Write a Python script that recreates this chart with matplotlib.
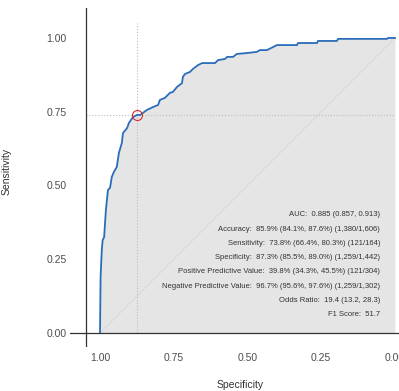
import matplotlib
matplotlib.use('Agg')
import matplotlib.pyplot as plt

plt.rcParams['font.family'] = ['Liberation Sans', 'DejaVu Sans']

# ROC curve points (specificity, sensitivity)
specificity = [1.000, 0.998, 0.994, 0.991, 0.986, 0.980, 0.973, 0.966, 0.960, 0.953,
               0.943, 0.936, 0.926, 0.922, 0.908, 0.902, 0.895, 0.888, 0.875, 0.864,
               0.841, 0.820, 0.803, 0.797, 0.780, 0.763, 0.753, 0.739, 0.722, 0.719,
               0.712, 0.695, 0.685, 0.668, 0.654, 0.610, 0.600, 0.576, 0.569, 0.549,
               0.536, 0.502, 0.468, 0.458, 0.434, 0.400, 0.332, 0.329, 0.264, 0.261,
               0.197, 0.193, 0.027, 0.024, 0.000]
sensitivity = [0.000, 0.190, 0.281, 0.315, 0.325, 0.417, 0.485, 0.492, 0.529, 0.546,
               0.563, 0.610, 0.644, 0.678, 0.695, 0.712, 0.722, 0.732, 0.739, 0.739,
               0.756, 0.766, 0.773, 0.790, 0.797, 0.814, 0.817, 0.834, 0.847, 0.868,
               0.878, 0.885, 0.895, 0.908, 0.915, 0.915, 0.925, 0.929, 0.936, 0.936,
               0.946, 0.949, 0.953, 0.959, 0.959, 0.976, 0.976, 0.983, 0.983, 0.990,
               0.990, 0.997, 0.997, 1.000, 1.000]

best_spec = 0.873
best_sens = 0.738

ticks = [1.00, 0.75, 0.50, 0.25, 0.00]
tick_labels = ['1.00', '0.75', '0.50', '0.25', '0.00']

stats = [
    'AUC:  0.885 (0.857, 0.913)',
    'Accuracy:  85.9% (84.1%, 87.6%) (1,380/1,606)',
    'Sensitivity:  73.8% (66.4%, 80.3%) (121/164)',
    'Specificity:  87.3% (85.5%, 89.0%) (1,259/1,442)',
    'Positive Predictive Value:  39.8% (34.3%, 45.5%) (121/304)',
    'Negative Predictive Value:  96.7% (95.6%, 97.6%) (1,259/1,302)',
    'Odds Ratio:  19.4 (13.2, 28.3)',
    'F1 Score:  51.7',
]

fig = plt.figure(figsize=(3.99, 3.91), dpi=100)
ax = fig.add_axes([70 / 399, 44 / 391, 329 / 399, 339 / 391])
ax.set_xlim(1.1017, -0.0136)
ax.set_ylim(-0.0475, 1.1017)
for s in ax.spines.values():
    s.set_visible(False)

# area under the curve
ax.fill_between(specificity, sensitivity, 0, color='#e5e5e5', lw=0, zorder=1)
ax.plot([1, 0], [0, 1], color='#d6d6d6', lw=0.6, zorder=2)

# cut-off guides
ax.plot([best_spec, best_spec], [0, 1.051], color='#bdbdbd', lw=0.8, ls=':', zorder=2)
ax.plot([1.0475, 0], [best_sens, best_sens], color='#bdbdbd', lw=0.8, ls=':', zorder=2)

ax.plot(specificity, sensitivity, color='#2b6cb8', lw=1.3, zorder=3)
ax.plot(best_spec, best_sens, 'o', mfc='none', mec='#d62b2b', ms=7.2, mew=0.8, zorder=4)

# axis lines crossing
ax.axhline(0, color='#333333', lw=0.9, zorder=5)
ax.axvline(1.0475, color='#333333', lw=0.9, zorder=5)

for i, t in enumerate(stats):
    ax.text(0.051, 0.40 - i * 0.0482, t, ha='right', va='center',
            fontsize=5.5, color='#333333', zorder=6)

ax.set_xticks(ticks)
ax.set_xticklabels(tick_labels)
ax.set_yticks(ticks)
ax.set_yticklabels(tick_labels)
ax.tick_params(axis='both', length=0, labelsize=7.5, labelcolor='#4d4d4d')
ax.tick_params(axis='x', pad=4.3)
ax.tick_params(axis='y', pad=2.2)

fig.text(240 / 399, 1 - 385 / 391, 'Specificity', ha='center', va='center',
         fontsize=7.5, color='#333333')
fig.text(7 / 399, 1 - 171 / 391, 'Sensitivity', ha='center', va='center',
         rotation=90, fontsize=7.5, color='#333333')

fig.savefig('out.png', dpi=100)
